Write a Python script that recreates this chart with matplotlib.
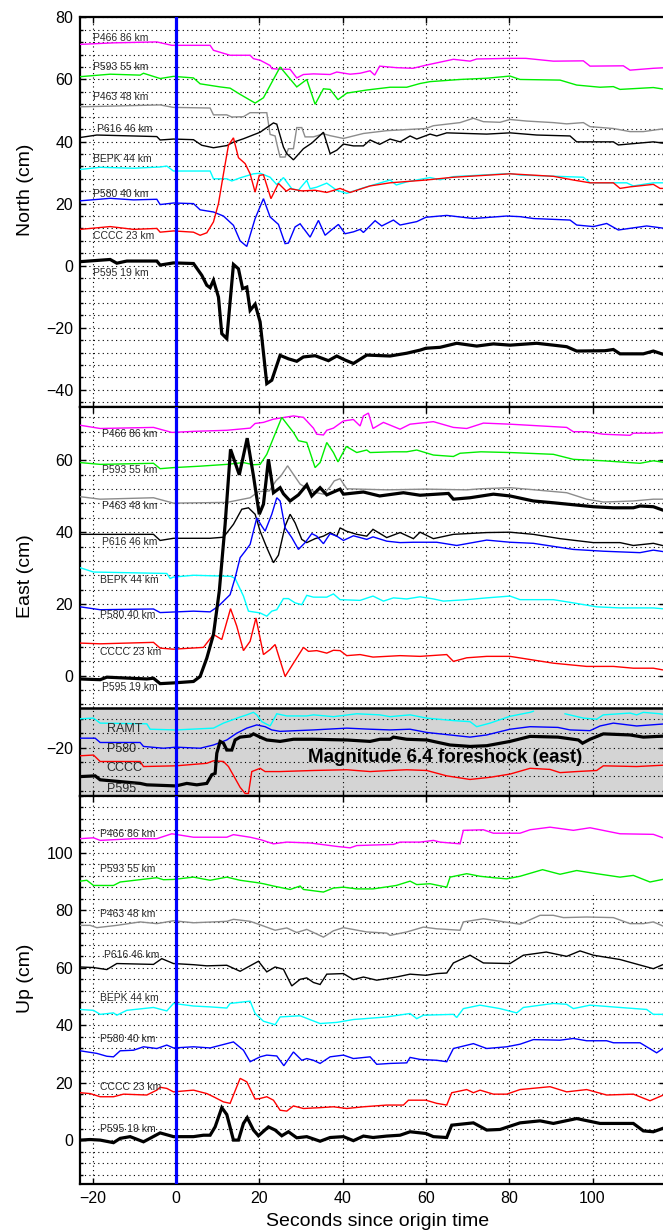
import matplotlib.pyplot as plt
from matplotlib.ticker import MultipleLocator, FixedLocator
from matplotlib.patches import Rectangle

nan = float('nan')

# ---- stations (same order in every panel) ----
station_labels = ["P466 86 km", "P593 55 km", "P463 48 km", "P616 46 km",
                  "BEPK 44 km", "P580 40 km", "CCCC 23 km", "P595 19 km"]
station_colors = ["#ff00ff", "#00ee00", "#8c8c8c", "black",
                  "#00ffff", "#0000ff", "#ff0000", "black"]
station_widths = [1.0, 1.0, 1.0, 1.0, 1.0, 1.0, 1.0, 2.3]

# ---- North component (seconds, cm) ----
north_P466 = [(-23, 71.3), (-15, 71.8), (-4.6, 72.1), (-1, 71.0), (8.2, 71.0), (9, 69.4), (13, 67.8),
              (17.8, 67.8), (18.6, 66.7), (20.2, 66.2), (22.6, 64.5), (23, 63.5), (25, 63.3), (27.4, 63.3),
              (29, 60.5), (30.6, 61.6), (33, 61.8), (37, 61.6), (38.6, 62.4), (41.8, 61.7), (44.2, 62.0),
              (46.6, 62.8), (47.7, 61.4), (48.9, 64.3), (52.9, 63.8), (56.9, 63.6), (60, 64.6), (66.6, 66.5),
              (70.6, 65.9), (72.2, 66.6), (80.2, 66.8), (84, 66.8), (90.6, 65.9), (97.8, 66.0), (99.4, 64.3),
              (107.4, 64.4), (109, 63.0), (114.6, 63.6), (117.5, 63.8)]
north_P593 = [(-23, 60.9), (-15.8, 61.7), (-8.6, 61.4), (-7.8, 62.0), (-3.8, 60.3), (-0.6, 61.0), (4.2, 60.5),
              (5.8, 58.6), (10.6, 57.6), (13, 57.2), (15.4, 55.2), (19, 52.4), (21, 54.1), (25, 64.0),
              (29, 57.6), (31.4, 60.0), (33.4, 52.0), (35.4, 57.0), (37, 56.8), (38.9, 53.5), (41, 55.6),
              (45.8, 56.6), (51.4, 57.5), (55.4, 57.5), (58.6, 58.7), (61, 59.3), (68.2, 60.0), (74.6, 60.4),
              (80.2, 61.1), (82.6, 60.0), (92.2, 59.8), (96.2, 58.2), (101.8, 57.5), (105, 57.7),
              (106.6, 56.8), (114.6, 57.4), (117.5, 56.8)]
north_P463 = [(-23, 51.2), (-15.8, 51.4), (-3.8, 51.8), (-0.6, 51.0), (8.2, 50.8), (9, 48.6), (12.2, 48.6),
              (13.4, 47.9), (16.2, 48.0), (17.8, 49.3), (21.8, 49.3), (22.6, 42.3), (23.8, 41.8), (24.2, 39.3),
              (25, 35.0), (26.2, 35.0), (27, 37.7), (28.2, 37.7), (29, 44.5), (30.2, 44.5), (31, 41.5),
              (33, 41.5), (35.4, 42.5), (37, 41.9), (40.2, 41.0), (45, 42.6), (50.6, 43.5), (60, 44.2),
              (61.8, 45.1), (68.2, 46.1), (71.4, 47.5), (73.8, 46.4), (77.8, 46.2), (80.2, 47.1), (84.2, 46.6),
              (90.6, 46.1), (93.8, 45.7), (97.8, 46.1), (99.4, 44.8), (105, 44.2), (109, 43.2), (112.2, 43.2),
              (117.5, 44.2)]
north_P616 = [(-23, 41.3), (-19, 42.1), (-4.6, 41.6), (-3.8, 40.5), (-0.6, 40.8), (4.2, 40.6), (6.2, 38.8),
              (9, 38.0), (12.2, 38.7), (13.8, 39.8), (16.2, 40.9), (20.2, 43.0), (23.4, 46.0), (24.2, 45.6),
              (25.8, 38.2), (26.6, 36.1), (28.2, 34.1), (30.6, 37.7), (32.6, 39.5), (35.4, 43.0), (37, 36.1),
              (38.6, 37.2), (40.2, 39.2), (42.6, 38.6), (45, 38.6), (46.6, 40.5), (48.9, 39.1), (51.4, 40.8),
              (53.8, 39.9), (56.2, 41.8), (57.8, 40.8), (61, 42.4), (62.6, 41.8), (65, 42.8), (74.6, 42.4),
              (80.2, 42.8), (86.6, 42.1), (94.6, 41.8), (96.2, 39.9), (105, 39.9), (106.2, 38.9),
              (114.6, 39.9), (117.5, 39.4)]
north_BEPK = [(-23, 31.0), (-18.2, 31.7), (-10.2, 31.4), (-3.8, 31.8), (-2.2, 32.1), (-0.6, 30.5), (8.2, 30.5),
              (9, 28.0), (12.2, 28.0), (13.4, 27.3), (15.4, 28.3), (18.6, 29.6), (20.2, 29.8), (22.6, 28.5),
              (24.2, 26.1), (25.8, 28.4), (27.8, 24.8), (29.4, 24.3), (31.4, 27.5), (32.2, 24.8), (33.8, 25.3),
              (36.2, 26.6), (38.6, 24.3), (41, 23.3), (45, 25.1), (51.4, 27.6), (52.9, 26.0), (55.4, 27.0),
              (61, 28.4), (63.4, 27.7), (66.6, 28.7), (80.2, 29.7), (82.6, 29.2), (97.8, 28.5), (99.4, 26.7),
              (108.2, 26.7), (109.8, 25.7), (114.6, 26.7), (117.5, 26.7)]
north_P580 = [(-23, 20.9), (-15.8, 21.7), (-10.2, 21.2), (-4.6, 21.4), (-3.8, 19.7), (-0.6, 20.2), (4.2, 20.0),
              (5.8, 18.0), (9, 17.3), (11.4, 16.0), (13.8, 13.0), (15.4, 8.0), (17, 6.2), (19, 15.2),
              (21, 21.6), (22.6, 15.7), (24.6, 13.3), (26.2, 7.1), (27, 7.3), (28.6, 12.5), (29.8, 13.5),
              (32.2, 9.2), (34.2, 14.6), (35.8, 9.8), (37.4, 11.6), (39, 13.3), (40.6, 10.3), (42.6, 10.9),
              (44.2, 11.7), (45, 10.7), (47.8, 14.5), (49.4, 12.8), (52.2, 14.7), (53.8, 13.1), (57.8, 14.2),
              (60, 15.6), (65, 16.2), (71.4, 15.2), (79.4, 16.0), (82.6, 15.8), (85.8, 15.2), (94.6, 14.7),
              (96.2, 13.1), (100.2, 12.6), (103.4, 13.6), (106.2, 11.5), (113, 12.8), (117.5, 12.0)]
north_CCCC = [(-23, 11.7), (-15.8, 12.6), (-10.2, 11.7), (-4.6, 12.0), (-3.8, 10.8), (-0.6, 11.2), (4.2, 10.8),
              (5.8, 9.8), (7.4, 10.6), (9, 14.1), (10.2, 20.0), (11.4, 29.6), (12.6, 38.8), (13.8, 41.2),
              (15, 34.8), (16.6, 32.9), (17.8, 29.6), (19, 23.7), (20, 29.1), (21, 29.3), (22.8, 21.6),
              (24.6, 26.5), (26.5, 24.0), (27.4, 24.8), (30.2, 24.1), (33.4, 24.3), (36.2, 23.6), (39.4, 24.9),
              (41.8, 23.6), (46.6, 25.7), (51.4, 26.7), (60, 27.6), (66.6, 28.5), (80.2, 29.6), (90.6, 28.8),
              (95.4, 27.6), (99.4, 26.7), (105, 26.7), (106.6, 24.9), (109, 25.4), (114.6, 26.2),
              (116.2, 24.9), (117.5, 24.9)]
north_P595 = [(-23, 1.3), (-15.8, 2.0), (-14.2, 0.8), (-11.8, 1.5), (-4.6, 1.5), (-3.8, 0.2), (-0.6, 0.9),
              (4.2, 0.7), (6.2, -3.1), (7.4, -6.3), (8.2, -7.1), (9, -4.7), (10.2, -10.1), (11, -21.9),
              (12.2, -23.5), (13.8, 0.4), (15, -1.0), (16, -7.4), (17, -6.9), (17.8, -14.4), (19, -12.4),
              (20.2, -18.1), (21.8, -38.0), (23, -36.9), (25, -28.9), (27, -30.0), (29, -30.8), (30.6, -29.4),
              (33.4, -29.0), (36.6, -30.6), (38.6, -29.1), (40.6, -30.4), (42.6, -31.5), (45.8, -28.8),
              (51.4, -29.1), (55.4, -28.2), (58.6, -27.2), (60, -26.6), (63.4, -26.3), (67.4, -25.0),
              (72.2, -25.9), (76.2, -25.2), (80.2, -25.6), (86.6, -25.0), (90.6, -25.6), (93.8, -26.1),
              (96.2, -27.5), (103, -27.4), (105, -27.0), (106.6, -28.4), (112.2, -28.4), (114.6, -27.5),
              (117.5, -28.8)]

# ---- East component ----
east_P466 = [(-23, 69.8), (-18.2, 68.9), (-5.4, 69.2), (-1, 67.8), (4.2, 68.1), (12.2, 68.4), (17.8, 69.0),
             (19, 70.3), (21, 70.6), (23.4, 71.5), (28.2, 72.4), (30.6, 72.0), (33, 69.0), (33.8, 67.3),
             (35.4, 67.1), (36.2, 68.4), (37.8, 69.0), (40.2, 71.0), (42.6, 71.4), (44.2, 69.6), (45, 72.4),
             (46.2, 73.2), (47.3, 68.9), (49.8, 70.6), (53.8, 68.7), (56.2, 70.1), (61.8, 70.8), (66.6, 69.2),
             (69.8, 68.9), (73.8, 70.4), (80.2, 70.1), (93.8, 69.2), (95.4, 68.0), (98.6, 68.0), (102.6, 67.3),
             (109, 67.0), (109.8, 67.6), (114.6, 67.6), (117.5, 67.8)]
east_P593 = [(-23, 59.4), (-18.2, 58.9), (-5.4, 59.2), (-3.8, 57.7), (-0.6, 58.0), (5.8, 58.4), (12.2, 58.9),
             (16.2, 59.4), (18.6, 58.8), (20.2, 58.9), (21.8, 61.7), (25.4, 72.0), (28.2, 67.8), (29.4, 65.5),
             (31.4, 65.0), (33.4, 58.0), (34.6, 59.4), (36.2, 65.0), (37.8, 62.2), (38.9, 59.6), (40.9, 63.9),
             (43.4, 62.2), (45.8, 62.9), (46.6, 62.2), (52.2, 62.4), (55.4, 62.4), (57.8, 62.9), (61.8, 61.5),
             (66.6, 61.1), (68.2, 62.0), (73.2, 62.4), (80.2, 62.2), (90.6, 61.7), (95.4, 60.3),
             (102.6, 59.9), (111.4, 59.2), (114.6, 59.9), (117.5, 59.4)]
east_P463 = [(-23, 49.9), (-18.2, 49.2), (-5.4, 49.6), (-0.6, 48.1), (5.8, 48.2), (12.2, 48.3), (17.8, 49.6),
             (19.8, 51.3), (22.4, 51.5), (24, 54.3), (25.2, 55.7), (26.8, 58.5), (28.2, 56.1), (29.8, 53.4),
             (31.8, 52.0), (33.8, 51.0), (35.4, 50.6), (37, 52.6), (38, 54.3), (39.4, 54.9), (41, 52.1),
             (44.2, 52.0), (50.6, 51.8), (60, 52.0), (69.8, 51.8), (73, 52.1), (80.2, 52.4), (84.2, 52.0),
             (93.8, 51.0), (98.6, 49.2), (102.6, 48.4), (109.8, 48.7), (114.6, 49.2), (117.5, 49.2)]
east_P616 = [(-23, 39.4), (-5.4, 39.4), (-3.8, 37.7), (-0.6, 38.3), (8.2, 38.3), (11.4, 38.6), (13.8, 42.2),
             (15.8, 46.4), (17.4, 46.8), (19, 45.0), (20.2, 40.3), (21.8, 35.7), (23.4, 31.5), (24.6, 33.6),
             (26.2, 41.7), (27.4, 45.0), (28.6, 42.6), (30.2, 38.0), (31.4, 37.1), (33.4, 38.2), (35.4, 38.9),
             (37, 39.9), (38.6, 38.9), (39.4, 41.2), (40.9, 40.3), (43.4, 39.4), (45.8, 38.9), (47.3, 40.8),
             (50.6, 38.5), (53.8, 39.9), (57, 38.2), (58.6, 40.0), (61.8, 38.2), (66.6, 39.4), (74.6, 39.9),
             (80.2, 40.0), (85.8, 39.4), (92.2, 38.2), (100.2, 37.1), (106.6, 37.1), (109.8, 36.3),
             (114.6, 36.9), (117.5, 36.1)]
east_BEPK = [(-23, 30.1), (-19.8, 28.9), (-2.2, 28.5), (-1.4, 27.1), (-0.6, 27.5), (4.2, 28.0), (13.2, 27.7),
             (14.2, 27.1), (16.2, 22.2), (17.4, 18.0), (20.2, 17.5), (21.8, 16.6), (23, 18.0), (24.2, 18.4),
             (25.8, 21.5), (27, 21.5), (28.6, 20.3), (30.2, 19.8), (31.4, 22.4), (33, 21.9), (36.2, 21.9),
             (37.8, 22.8), (39.4, 21.2), (44.2, 21.0), (47.3, 22.2), (49.8, 20.8), (52.2, 21.7), (55.4, 21.4),
             (58.6, 22.0), (61.8, 21.4), (64.2, 20.8), (69.8, 21.2), (74.6, 21.7), (80.2, 22.2), (82.6, 21.2),
             (90.6, 21.2), (95.4, 20.3), (101, 19.2), (106.6, 18.9), (114.6, 18.9), (117.5, 18.6)]
east_P580 = [(-23, 19.2), (-18.2, 18.4), (-5.4, 18.6), (-3.8, 17.6), (4.2, 18.0), (8.2, 17.8), (10.2, 19.4),
             (13, 22.6), (14.2, 27.3), (15.4, 32.9), (16.6, 34.7), (17.8, 36.6), (19.4, 44.0), (20.6, 41.7),
             (21.4, 40.3), (23, 45.0), (24.2, 49.6), (25, 48.7), (26.2, 41.2), (27.8, 38.5), (29.4, 35.2),
             (31, 37.1), (32.6, 39.6), (33.8, 38.9), (35.4, 36.8), (37, 39.6), (38.6, 38.9), (40.2, 37.7),
             (42.6, 39.0), (45.8, 38.0), (47.3, 38.7), (50.6, 37.5), (53.8, 37.1), (57, 37.2), (62.6, 37.2),
             (67.4, 36.3), (74.6, 37.8), (80.2, 37.2), (85.8, 36.9), (95.4, 35.2), (102.6, 34.7),
             (111.4, 34.3), (114.6, 35.0), (117.5, 34.5)]
east_CCCC = [(-23, 9.1), (-18.2, 8.9), (-5.4, 9.3), (-3.8, 7.7), (-0.6, 7.4), (6.6, 7.9), (9, 11.5), (11, 10.1),
             (13.1, 18.7), (14.6, 13.8), (16.2, 7.0), (17.8, 9.6), (19.2, 16.1), (21, 5.9), (22.6, 7.3),
             (23.8, 8.7), (26.2, -0.2), (28.2, 3.5), (30.6, 7.9), (31.8, 6.8), (33.8, 7.0), (36.2, 6.3),
             (37.8, 7.1), (39.4, 7.0), (41, 5.6), (44.2, 5.9), (47.3, 5.2), (53.8, 5.6), (58.6, 5.4),
             (65, 5.9), (66.6, 4.0), (69.8, 5.0), (74.6, 5.4), (80.2, 5.4), (90.6, 3.5), (98.6, 2.6),
             (105, 2.6), (109.8, 2.1), (114.6, 2.1), (117.5, 1.5)]
east_P595 = [(-23, -0.9), (-18.2, -1.1), (-16.6, -0.4), (-7, -0.9), (-5.4, -0.7), (-3.8, -2.2), (-0.6, -2.0),
             (4.2, -1.6), (5.8, -0.2), (7.4, 4.9), (9, 11.5), (10.4, 23.6), (11.8, 42.2), (13.1, 63.1),
             (15.2, 56.0), (17.1, 66.2), (18.6, 55.7), (20, 45.0), (21, 47.8), (22.2, 60.3), (23.4, 51.0),
             (25, 52.4), (25.8, 50.7), (27.4, 48.7), (29.4, 50.4), (31.4, 53.2), (32.6, 50.1), (34.6, 52.4),
             (36.2, 50.4), (38, 51.3), (39.4, 52.0), (40.2, 50.6), (45, 51.2), (48.9, 50.1), (54.6, 51.0),
             (58.6, 50.3), (65.4, 50.8), (66.6, 49.2), (70.6, 49.6), (76.2, 50.6), (80.2, 50.1), (85.8, 48.7),
             (90.6, 48.2), (100.2, 47.1), (105, 46.8), (109.8, 46.8), (111.4, 47.3), (114.6, 47.1),
             (117.5, 45.9)]

# ---- M6.4 foreshock, east component (offset traces in the grey box) ----
fore_labels = ["RAMT", "P580", "CCCC", "P595"]
fore_colors = ["#00ffff", "#0000ff", "#ff0000", "black"]
fore_widths = [1.0, 1.0, 1.0, 2.3]
fore_label_y = [-14.8, -20.5, -25.7, -31.6]
fore_RAMT = [(-23, -12.0), (-19.8, -11.8), (-18.2, -13.2), (-7, -13.4), (-6.2, -14.9), (0, -15.1), (9, -14.6),
             (11.4, -13.2), (15.4, -11.5), (17, -10.9), (18.6, -10.2), (19.4, -10.9), (20.6, -12.8),
             (22.6, -14.0), (24.2, -10.6), (26.6, -11.2), (31.4, -11.2), (33, -10.9), (37.8, -11.4),
             (43.4, -10.6), (48.9, -10.9), (51.4, -11.4), (56.2, -10.9), (60.2, -11.8), (66.6, -12.5),
             (70.6, -12.8), (72.2, -14.2), (75.4, -13.2), (80.2, -11.3), (85, -10.2), (85.8, -9.9), (nan, nan),
             (93.4, -10.6), (97.8, -11.8), (101, -12.1), (102.6, -10.9), (109, -10.4), (110.6, -10.9),
             (112.2, -10.2), (116.2, -10.6), (117.5, -10.9)]
fore_P580 = [(-23, -17.4), (-19.4, -17.4), (-18.2, -18.6), (-8.6, -18.6), (-7.8, -19.7), (-3, -20.2), (0, -19.9),
             (5.8, -20.2), (9, -19.3), (12.2, -17.9), (14.6, -16.0), (17, -14.6), (19.4, -13.7), (21.4, -14.2),
             (23, -15.1), (25, -15.5), (33, -15.1), (41, -14.6), (46.6, -14.9), (51.4, -15.1), (56.2, -14.9),
             (60.2, -15.8), (65.8, -16.5), (70.6, -17.1), (74.6, -16.5), (80.2, -14.9), (85, -14.2),
             (91.7, -14.4), (94.6, -15.1), (99.4, -15.3), (101.8, -14.0), (105, -13.2), (110.6, -14.0),
             (117.5, -13.4)]
fore_CCCC = [(-23, -22.3), (-19.8, -22.1), (-18.2, -23.9), (-8.6, -23.9), (-7.8, -25.3), (0, -25.1), (7.4, -24.4),
             (9, -23.7), (11.4, -23.9), (12.6, -25.3), (14.2, -28.6), (15.4, -31.1), (16.6, -32.8),
             (17.4, -32.8), (18.2, -26.7), (20.2, -25.8), (21.4, -26.7), (25, -26.7), (33, -26.4), (41, -26.2),
             (46.6, -26.7), (51.4, -26.4), (55.4, -26.2), (60.2, -26.4), (65, -27.9), (70.6, -28.9),
             (75.4, -28.3), (80.2, -27.4), (85, -25.8), (89.8, -26.1), (92.2, -27.0), (96.2, -26.7),
             (101, -26.4), (102.6, -25.1), (110.6, -25.3), (117.5, -24.9)]
fore_P595 = [(-23, -28.1), (-19.4, -27.9), (-18.2, -29.0), (-13.4, -29.5), (-8.6, -30.0), (-7, -30.4), (0, -30.7),
             (2.6, -30.0), (5, -30.4), (7.4, -30.0), (8.6, -27.6), (9.4, -27.2), (9.8, -21.6), (10.6, -18.3),
             (11.4, -18.8), (12.2, -20.7), (13.4, -20.7), (14.2, -17.9), (15.4, -17.1), (17.8, -16.8),
             (18.6, -16.2), (20.2, -17.1), (21.8, -17.9), (25, -18.3), (28.2, -17.7), (33, -17.7), (41, -17.9),
             (46.6, -18.3), (49, -17.7), (51.4, -17.7), (52.2, -17.1), (55.4, -17.7), (60.2, -17.9),
             (65.8, -19.3), (70.6, -19.7), (74.6, -19.5), (80.2, -18.3), (85, -16.9), (91.7, -17.1),
             (96.6, -17.9), (97.6, -18.8), (99.4, -17.7), (102.6, -16.2), (109, -16.5), (112.2, -17.1),
             (117.5, -16.8)]

# ---- Up component ----
up_P466 = [(-23, 105.0), (-19.8, 105.3), (-18.2, 104.4), (-10.2, 105.0), (-4.6, 105.0), (-1, 106.7), (4.2, 105.5),
           (12.2, 105.5), (13.8, 106.4), (17.8, 105.5), (20.2, 104.7), (23.4, 103.2), (26.6, 103.8),
           (32.2, 103.5), (38.6, 102.3), (41.8, 101.8), (43.4, 102.6), (52.2, 103.0), (53.8, 103.8),
           (58.6, 103.8), (61.8, 104.4), (63.4, 103.8), (68.2, 103.2), (69, 107.9), (73.8, 108.1),
           (76.2, 106.9), (82.6, 106.9), (85, 108.1), (89.8, 109.0), (95.4, 107.9), (99.4, 108.8),
           (106.6, 106.7), (114.6, 106.5), (117.5, 105.0)]
up_P593 = [(-23, 90.2), (-21.4, 90.5), (-19.8, 88.7), (-15, 88.7), (-13.4, 89.9), (-4.6, 91.4), (-3, 90.7),
           (-0.6, 90.8), (4.2, 91.6), (8.2, 90.5), (12.2, 91.6), (15.4, 90.5), (19.4, 89.7), (21, 89.3),
           (23.4, 88.5), (27.4, 87.3), (29.8, 88.5), (30.6, 87.3), (35.4, 86.4), (37.8, 87.8), (40.2, 88.1),
           (43.4, 87.5), (47.3, 87.5), (52.9, 88.7), (56.2, 90.2), (57.8, 89.0), (61, 89.3), (65, 88.1),
           (65.8, 91.6), (69.8, 92.8), (73, 91.9), (76.2, 91.4), (79.4, 91.0), (82.6, 91.9), (88, 94.2),
           (92.2, 92.6), (96.2, 93.9), (101, 92.8), (106.6, 91.6), (109.8, 92.2), (113.8, 89.9), (117.5, 91.0)]
up_P463 = [(-23, 74.8), (-20.6, 74.8), (-19, 74.0), (-14.2, 74.8), (-8.6, 76.0), (-4.6, 75.4), (-0.6, 76.4),
           (4.2, 75.7), (12.2, 76.2), (13.8, 76.9), (17.8, 76.2), (20.2, 75.0), (23.8, 73.1), (26.6, 73.9),
           (29, 72.3), (31.4, 73.4), (35.4, 70.7), (37.8, 72.9), (40.2, 74.0), (45.8, 72.5), (50.6, 72.1),
           (51.4, 71.3), (55.4, 72.5), (59.4, 74.2), (62.6, 73.6), (68.2, 73.1), (69, 76.0), (73.8, 77.1),
           (82.6, 75.2), (87.4, 78.3), (90.6, 78.3), (93, 77.5), (98.6, 77.7), (105, 77.5), (109, 75.4),
           (112.2, 75.4), (114.6, 76.0), (117.5, 74.2)]
up_P616 = [(-23, 60.3), (-19.8, 60.1), (-16.6, 59.4), (-14.2, 61.5), (-5.4, 61.2), (-3.4, 63.2), (-0.6, 61.5),
           (4.2, 61.1), (7.4, 60.7), (12.2, 60.9), (15.4, 58.8), (19.8, 62.3), (21.8, 58.6), (23.8, 60.3),
           (25.8, 59.5), (27.8, 53.7), (29.8, 56.0), (31.4, 56.5), (33, 54.9), (34.6, 54.2), (36.2, 57.8),
           (40.2, 58.0), (42.6, 55.9), (45, 56.8), (48.2, 55.7), (52.9, 56.8), (56.2, 57.8), (60, 57.4),
           (62.6, 58.0), (65, 58.2), (66.6, 61.7), (70.6, 64.4), (73.8, 61.7), (80.2, 61.5), (83.4, 64.4),
           (88.9, 65.5), (93.8, 64.0), (97, 65.9), (100.2, 64.4), (106.6, 62.9), (114.6, 59.7), (117.5, 61.5)]
up_BEPK = [(-23, 45.5), (-19.8, 45.2), (-18.2, 43.8), (-15, 44.3), (-14.2, 43.5), (-11.8, 45.2), (-5.4, 46.2),
           (-2.2, 45.0), (-0.6, 47.6), (4.2, 46.7), (8.2, 46.4), (12.2, 46.0), (13, 47.6), (17.8, 48.4),
           (19, 44.1), (21, 41.4), (23.8, 40.2), (25, 42.9), (29.8, 43.3), (34.6, 40.6), (38.6, 41.0),
           (42.6, 42.0), (50.6, 42.9), (56.2, 44.1), (57.8, 42.3), (59.4, 43.5), (66.6, 43.8), (67.4, 42.7),
           (69, 45.8), (73, 47.0), (77.8, 45.8), (81.8, 44.3), (83.4, 46.2), (90.6, 47.6), (93.8, 47.3),
           (95.4, 45.8), (99.4, 47.0), (106.6, 46.2), (113, 45.5), (114.6, 43.8), (117.5, 43.8)]
up_P580 = [(-23, 31.1), (-19, 30.2), (-16.6, 29.2), (-15, 29.0), (-13.4, 31.1), (-10.2, 31.3), (-7.8, 32.5),
           (-4.6, 31.9), (-2.2, 33.1), (-0.6, 32.1), (4.2, 32.5), (8.2, 32.1), (13.8, 34.2), (16.2, 31.3),
           (17.8, 27.3), (20.2, 29.0), (21.8, 29.6), (24.2, 29.3), (25.9, 25.9), (28.2, 30.7), (30.2, 27.8),
           (31.4, 28.4), (33, 27.8), (34.6, 26.7), (37, 29.0), (40.2, 29.6), (42.6, 28.4), (46.6, 29.0),
           (48.2, 26.4), (51.4, 26.7), (55.4, 26.9), (56.2, 28.8), (58.6, 28.1), (62.6, 27.8), (65, 27.3),
           (66.6, 31.9), (71.4, 33.6), (74.6, 31.9), (79.4, 32.5), (82.6, 33.4), (85.8, 35.0), (92.2, 34.8),
           (95.4, 35.4), (98.6, 34.6), (103.4, 34.6), (105, 33.9), (111.4, 33.9), (115.4, 30.4), (117.5, 32.5)]
up_CCCC = [(-23, 16.5), (-20.6, 16.2), (-18.2, 15.1), (-15, 15.1), (-12.6, 16.0), (-7, 15.7), (-4.6, 17.4),
           (-3.8, 18.4), (-2.2, 18.0), (-0.6, 16.8), (4.2, 17.4), (7.4, 16.2), (9, 15.1), (11.4, 13.3),
           (13, 12.8), (15.4, 21.5), (17, 20.3), (19, 14.3), (20.2, 14.5), (21.8, 15.1), (23.4, 13.9),
           (25, 10.4), (26.6, 10.1), (28.2, 11.9), (30.6, 11.0), (34.6, 11.3), (37.8, 11.6), (41, 11.0),
           (45, 11.6), (50.6, 12.2), (54.6, 12.2), (55.8, 13.9), (60, 13.9), (62.6, 12.8), (65, 12.2),
           (66.2, 16.5), (69.8, 17.6), (71.4, 16.5), (73, 17.4), (76.2, 16.0), (79.4, 16.0), (82.6, 17.6),
           (89.8, 18.6), (93.8, 16.8), (98.6, 17.6), (103.4, 15.7), (109.8, 16.0), (113.8, 13.7), (117.5, 16.0)]
up_P595 = [(-23, 0.0), (-20.6, 0.2), (-18.2, 0.0), (-15, -0.9), (-13.4, 0.6), (-11, 1.2), (-7.8, -0.6),
           (-3.8, 2.5), (-0.6, 1.2), (4.2, 1.2), (6.6, 1.7), (8.2, 1.7), (9.4, 4.6), (11, 11.3), (12.2, 8.9),
           (13.8, 0.0), (15, 0.0), (16.2, 5.8), (17.1, 7.8), (18.6, 3.5), (19.8, 1.5), (22.2, 4.6), (23.8, 3.5),
           (25.4, 1.5), (27, 2.9), (29, 0.8), (31.4, 1.2), (34.6, -0.4), (37, 0.9), (40.2, 1.2), (42.6, -0.2),
           (45, 1.4), (47.3, 0.9), (50.6, 1.4), (53.8, 1.7), (56.2, 2.9), (60, 2.3), (61.8, 1.2), (65, 0.9),
           (66.2, 5.2), (71.4, 6.0), (74.6, 3.5), (77.8, 3.7), (82.6, 6.0), (87.4, 6.7), (90.6, 5.8),
           (96.2, 7.5), (101.8, 5.8), (109.8, 5.8), (112.2, 3.2), (114.6, 2.9), (117.5, 4.4)]

# station label anchors (seconds, cm)
north_label_x = [-20, -20, -20, -19, -20, -20, -20, -20]
north_label_y = [73.5, 64.0, 54.3, 44.0, 34.4, 23.1, 9.6, -2.4]
east_label_x = [-17.8, -17.8, -17.8, -17.8, -18.2, -18.2, -18.2, -17.8]
east_label_y = [67.3, 57.3, 47.2, 37.3, 26.6, 16.8, 6.6, -3.2]
up_label_x = [-18.2, -18.2, -18.2, -17.3, -18.2, -18.2, -18.2, -18.2]
up_label_y = [106.7, 94.5, 78.9, 64.5, 49.6, 35.1, 18.5, 3.8]

# labelled y ticks of each panel
north_yticks = [-40, -20, 0, 20, 40, 60, 80]
east_yticks = [-20, 0, 20, 40, 60]
up_yticks = [0, 20, 40, 60, 80, 100]

north_traces = [north_P466, north_P593, north_P463, north_P616, north_BEPK, north_P580, north_CCCC, north_P595]
east_traces = [east_P466, east_P593, east_P463, east_P616, east_BEPK, east_P580, east_CCCC, east_P595]
fore_traces = [fore_RAMT, fore_P580, fore_CCCC, fore_P595]
up_traces = [up_P466, up_P593, up_P463, up_P616, up_BEPK, up_P580, up_CCCC, up_P595]

plt.rcParams['font.family'] = ['Liberation Sans', 'DejaVu Sans']
plt.rcParams['axes.unicode_minus'] = True

XLIM = (-23.04, 117.4)
dot = (0, (1, 3))


def setup(ax, ylim, yticks, ylabel, label_y):
    ax.set_xlim(*XLIM)
    ax.set_ylim(*ylim)
    ax.set_axisbelow(True)
    ax.xaxis.set_major_locator(MultipleLocator(20))
    ax.yaxis.set_major_locator(FixedLocator(yticks))
    ax.yaxis.set_minor_locator(MultipleLocator(4))
    ax.grid(True, which='major', axis='x', color='black', lw=0.8, ls=dot)
    ax.grid(True, which='both', axis='y', color='black', lw=0.8, ls=dot)
    ax.tick_params(which='both', direction='in', top=True, right=True,
                   labelsize=11.5, width=1.0, pad=5)
    ax.tick_params(which='major', length=4)
    ax.tick_params(which='minor', length=2.5)
    for s in ax.spines.values():
        s.set_linewidth(1.6)
    ax.set_ylabel(ylabel, fontsize=14)
    ax.yaxis.set_label_coords(-0.079, label_y)
    ax.axvline(0, color='#0000ff', lw=2.3, zorder=6)


def draw(ax, traces, colors, widths):
    for tr, c, w in zip(traces, colors, widths):
        t = [p[0] for p in tr]
        v = [p[1] for p in tr]
        ax.plot(t, v, color=c, lw=w, zorder=3, solid_joinstyle='miter')


def labels(ax, xs, ys, names, size):
    for x, y, s in zip(xs, ys, names):
        ax.text(x, y, s, fontsize=size, color='#2a2a2a', va='center', ha='left', zorder=4)


fig = plt.figure(figsize=(6.63, 12.32), dpi=100)
left = 80 / 663
width = (665 - 80) / 663
ax_n = fig.add_axes([left, 0.66997, width, 0.31591])
ax_e = fig.add_axes([left, 0.35422, width, 0.31575])
ax_u = fig.add_axes([left, 0.03872, width, 0.3155])

# North
setup(ax_n, (-45.4, 80), north_yticks, "North (cm)", 0.557)
ax_n.add_patch(Rectangle((82.6, 46.2), 40, 40, facecolor='white', edgecolor='none', zorder=0.8))
draw(ax_n, north_traces, station_colors, station_widths)
labels(ax_n, north_label_x, north_label_y, station_labels, 7.5)
ax_n.tick_params(labelbottom=False)

# East + foreshock box
setup(ax_e, (-33.4, 75), east_yticks, "East (cm)", 0.565)
ax_e.axhspan(-40, -9, facecolor='#d4d4d4', edgecolor='none', zorder=0.3)
ax_e.axhline(-9, color='black', lw=1.8, zorder=5)
draw(ax_e, east_traces, station_colors, station_widths)
labels(ax_e, east_label_x, east_label_y, station_labels, 7.5)
draw(ax_e, fore_traces, fore_colors, fore_widths)
labels(ax_e, [-16.6] * 4, fore_label_y, fore_labels, 9)
ax_e.text(31.7, -22.9, "Magnitude 6.4 foreshock (east)", fontsize=13.5, fontweight='bold',
          va='center', ha='left', zorder=5)
ax_e.tick_params(labelbottom=False)

# Up
setup(ax_u, (-15.4, 120), up_yticks, "Up (cm)", 0.531)
ax_u.add_patch(Rectangle((82.6, 85.5), 40, 40, facecolor='white', edgecolor='none', zorder=0.8))
draw(ax_u, up_traces, station_colors, station_widths)
labels(ax_u, up_label_x, up_label_y, station_labels, 7.5)
ax_u.set_xlabel("Seconds since origin time", fontsize=14)
ax_u.xaxis.set_label_coords((378 - 80) / 585, -0.0738)

fig.savefig("out.png", dpi=100)
